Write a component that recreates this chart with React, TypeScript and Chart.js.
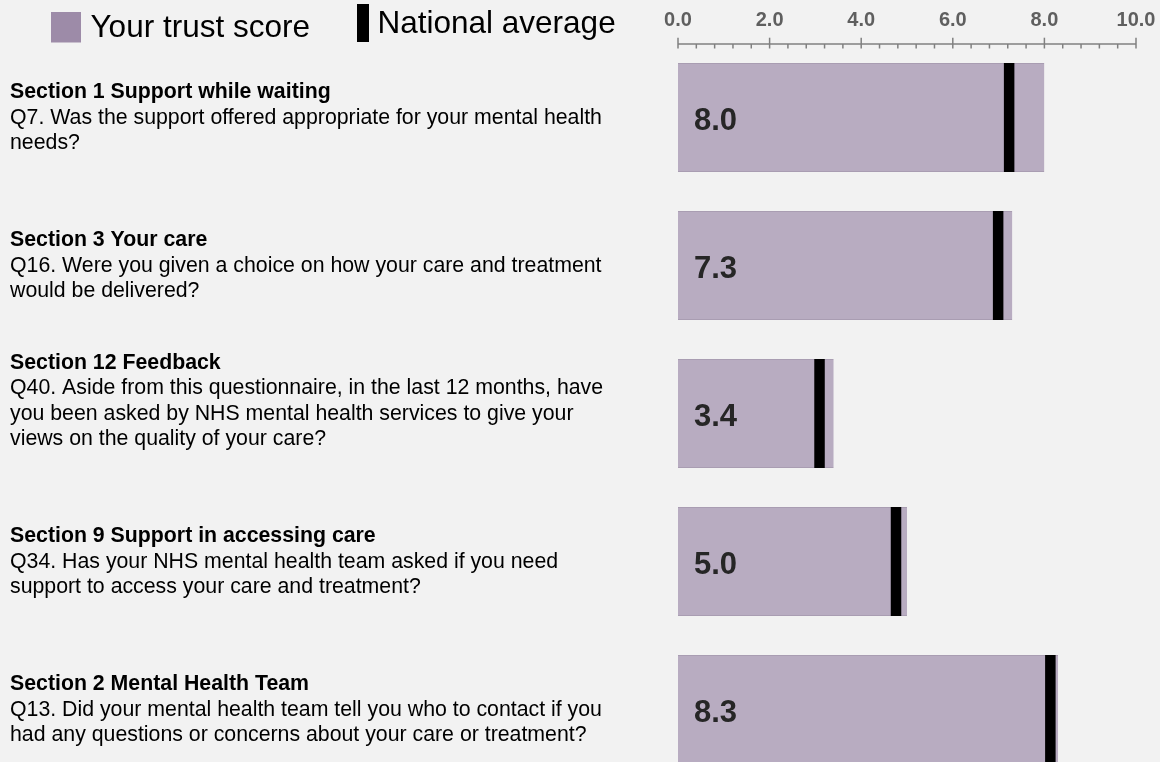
import React, { useEffect, useRef } from 'react';
import { Chart, registerables } from 'chart.js';

Chart.register(...registerables);

// ---- data ----
const categories = ['Q7', 'Q16', 'Q40', 'Q34', 'Q13'];
const sectionTitles = [
  'Section 1 Support while waiting',
  'Section 3 Your care',
  'Section 12 Feedback',
  'Section 9 Support in accessing care',
  'Section 2 Mental Health Team',
];
const questionLines = [
  ['Q7. Was the support offered appropriate for your mental health', 'needs?'],
  ['Q16. Were you given a choice on how your care and treatment', 'would be delivered?'],
  [
    'Q40. Aside from this questionnaire, in the last 12 months, have',
    'you been asked by NHS mental health services to give your',
    'views on the quality of your care?',
    '',
  ],
  ['Q34. Has your NHS mental health team asked if you need', 'support to access your care and treatment?'],
  ['Q13. Did your mental health team tell you who to contact if you', 'had any questions or concerns about your care or treatment?'],
];
const trustScores = [8.0, 7.3, 3.4, 5.0, 8.3];
const nationalAverages = [7.23, 6.99, 3.09, 4.76, 8.13];
const majorTicks = [0, 2, 4, 6, 8, 10];
const minorPerMajor = 5;
const legendLabels = ['Your trust score', 'National average'];

const FONT = '"Liberation Sans", Arial, Helvetica, sans-serif';
const BAR_COLOR = '#b8acc1';
const SWATCH_COLOR = '#9d8ba8';

const overlayPlugin = {
  id: 'overlay',
  beforeDraw(chart: any) {
    const ctx = chart.ctx;
    ctx.save();
    ctx.fillStyle = '#f2f2f2';
    ctx.fillRect(0, 0, chart.width, chart.height);
    ctx.restore();
  },
  afterDatasetsDraw(chart: any) {
    const ctx = chart.ctx;
    const meta = chart.getDatasetMeta(0);
    ctx.save();
    ctx.font = `bold 31px ${FONT}`;
    ctx.fillStyle = '#262626';
    ctx.textAlign = 'left';
    ctx.textBaseline = 'alphabetic';
    meta.data.forEach((bar: any, i: number) => {
      ctx.fillText(trustScores[i].toFixed(1), bar.base + 16, bar.y + 12);
    });
    ctx.restore();
  },
  afterDraw(chart: any) {
    const ctx = chart.ctx;
    const xs = chart.scales.x;
    const meta = chart.getDatasetMeta(0);
    ctx.save();

    // legend
    ctx.fillStyle = SWATCH_COLOR;
    ctx.fillRect(51, 12, 30, 30.5);
    ctx.fillStyle = '#000';
    ctx.fillRect(357, 4, 12, 38);
    ctx.font = `31.5px ${FONT}`;
    ctx.textAlign = 'left';
    ctx.textBaseline = 'alphabetic';
    ctx.fillText(legendLabels[0], 90.5, 36.7);
    ctx.fillText(legendLabels[1], 377.5, 32.7);

    // axis
    const axisY = 44;
    const x0 = xs.getPixelForValue(majorTicks[0]);
    const x1 = xs.getPixelForValue(majorTicks[majorTicks.length - 1]);
    ctx.strokeStyle = '#808080';
    ctx.lineWidth = 1.5;
    ctx.beginPath();
    ctx.moveTo(x0, axisY);
    ctx.lineTo(x1, axisY);
    ctx.stroke();
    for (let m = 0; m < majorTicks.length; m++) {
      const v = majorTicks[m];
      const px = xs.getPixelForValue(v);
      ctx.beginPath();
      ctx.moveTo(px, 37.7);
      ctx.lineTo(px, 48.5);
      ctx.stroke();
      if (m < majorTicks.length - 1) {
        const step = (majorTicks[m + 1] - v) / minorPerMajor;
        for (let k = 1; k < minorPerMajor; k++) {
          const mp = xs.getPixelForValue(v + k * step);
          ctx.beginPath();
          ctx.moveTo(mp, axisY);
          ctx.lineTo(mp, 48.5);
          ctx.stroke();
        }
      }
    }
    ctx.font = `bold 20px ${FONT}`;
    ctx.fillStyle = '#5f5f5f';
    ctx.textAlign = 'center';
    majorTicks.forEach((v) => {
      ctx.fillText(v.toFixed(1), xs.getPixelForValue(v), 26);
    });

    // left labels
    ctx.textAlign = 'left';
    ctx.fillStyle = '#000';
    const lineH = 25.3;
    meta.data.forEach((bar: any, i: number) => {
      const lines = [sectionTitles[i], ...questionLines[i]];
      const n = lines.length;
      lines.forEach((t, j) => {
        ctx.font = j === 0 ? `bold 21.3px ${FONT}` : `21.3px ${FONT}`;
        const y = bar.y + (j - (n - 1) / 2) * lineH + 6;
        ctx.fillText(t, 10, y);
      });
    });
    ctx.restore();
  },
};

export default function App() {
  const ref = useRef<HTMLCanvasElement>(null);
  useEffect(() => {
    if (!ref.current) return;
    const chart = new Chart(ref.current, {
      type: 'bar',
      data: {
        labels: categories,
        datasets: [
          {
            type: 'bar',
            label: legendLabels[0],
            data: trustScores,
            backgroundColor: BAR_COLOR,
            borderColor: '#a99db2',
            borderWidth: { top: 1, bottom: 1, left: 0, right: 0 },
            borderSkipped: false,
            barPercentage: 0.7365,
            categoryPercentage: 1,
            order: 1,
          } as any,
          {
            type: 'line',
            label: legendLabels[1],
            data: nationalAverages,
            indexAxis: 'y',
            showLine: false,
            pointStyle: 'line',
            pointRotation: 90,
            pointRadius: 54.5,
            pointHoverRadius: 54.5,
            pointBorderWidth: 10.5,
            pointBorderColor: '#000',
            pointBackgroundColor: '#000',
            borderColor: '#000',
            order: 0,
            clip: false,
          } as any,
        ],
      },
      options: {
        indexAxis: 'y',
        animation: false,
        responsive: false,
        maintainAspectRatio: false,
        events: [],
        layout: { autoPadding: false, padding: { left: 678, right: 24, top: 43.5, bottom: 16.5 } },
        plugins: { legend: { display: false }, tooltip: { enabled: false } },
        scales: {
          x: { type: 'linear', min: 0, max: 10, display: false },
          y: { type: 'category', display: false, offset: true },
        },
      },
      plugins: [overlayPlugin],
    });
    return () => chart.destroy();
  }, []);
  return (
    <div
      style={{
        position: 'fixed',
        left: 0,
        top: 0,
        width: 1160,
        height: 762,
        overflow: 'hidden',
        background: '#f2f2f2',
      }}
    >
      <canvas ref={ref} width={1160} height={800} style={{ display: 'block', width: 1160, height: 800 }} />
    </div>
  );
}
